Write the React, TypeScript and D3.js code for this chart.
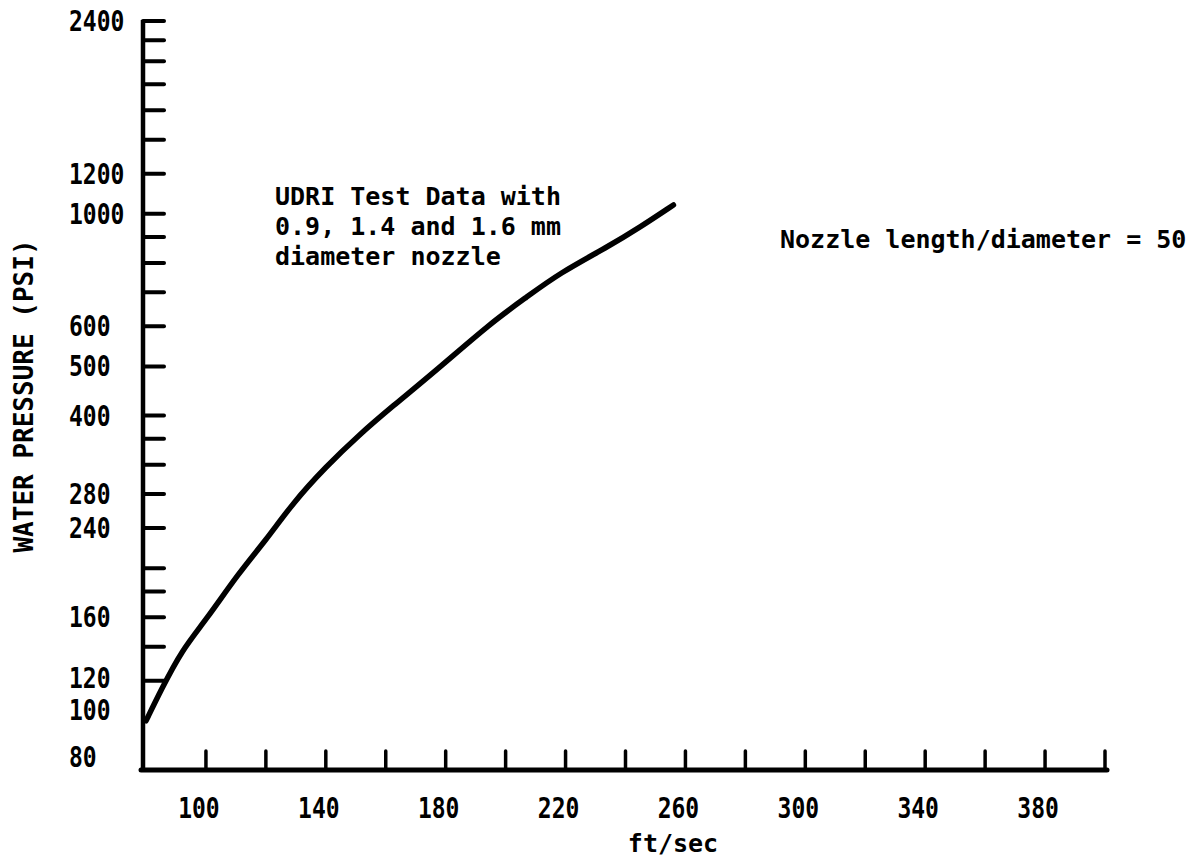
import React from "react";
import * as d3 from "d3";

// Data
const velocity = [80, 85, 92, 100, 111, 120, 129, 140, 151, 162, 177, 195, 207, 218, 234, 245, 256];
const pressure = [100, 115, 138, 158, 196, 227, 269, 317, 366, 416, 492, 609, 685, 764, 860, 942, 1041];

const xTicks = [100, 120, 140, 160, 180, 200, 220, 240, 260, 280, 300, 320, 340, 360, 380, 400];
const xTickLabels = [100, 140, 180, 220, 260, 300, 340, 380];
const yTicks = [2400, 2200, 2000, 1800, 1600, 1400, 1200, 1000, 900, 800, 700, 600, 500, 400, 360, 320, 280, 240, 200, 180, 160, 140, 120];
const yTickLabels = [2400, 1200, 1000, 600, 500, 400, 280, 240, 160, 120, 100, 80];

const annotationLines = ["UDRI Test Data with", "0.9, 1.4 and 1.6 mm", "diameter nozzle"];
const noteText = "Nozzle length/diameter = 50";
const xTitle = "ft/sec";
const yTitle = "WATER PRESSURE (PSI)";

const W = 1198;
const H = 858;
const MONO = "'DejaVu Sans Mono', 'Liberation Mono', monospace";

export default function App() {
  const x = d3.scaleLinear().domain([80, 400]).range([146, 1105]);
  const y = d3.scaleLog().domain([80, 2400]).range([770, 21]);
  const axisX = x(80) - 3;
  const axisY = y(80);

  const pts: [number, number][] = velocity.map((v, i) => [v, pressure[i]]);
  const line = d3
    .line<[number, number]>()
    .x((d) => x(d[0]))
    .y((d) => y(d[1]))
    .curve(d3.curveBasis);

  const labelDy = (v: number) => (v === 80 ? -13 : v === 100 ? -11 : v === 120 ? -3 : 0);

  return (
    <svg
      width={W}
      height={H}
      style={{ position: "absolute", left: 0, top: 0, background: "#fff" }}
    >
      <rect x={0} y={0} width={W} height={H} fill="#fff" />
      {/* y axis */}
      <line x1={axisX} x2={axisX} y1={y(2400) - 1} y2={axisY + 2} stroke="#000" strokeWidth={4.5} />
      {yTicks.map((t) => (
        <line
          key={"yt" + t}
          x1={axisX}
          x2={axisX + 21}
          y1={y(t)}
          y2={y(t)}
          stroke="#000"
          strokeWidth={4}
          strokeLinecap="round"
        />
      ))}
      {yTickLabels.map((t) => (
        <text
          key={"yl" + t}
          transform={`translate(69,${y(t) + labelDy(t)}) scale(1,1.2)`}
          dy="0.36em"
          fontFamily={MONO}
          fontWeight="bold"
          fontSize={23}
          fill="#000"
        >
          {t}
        </text>
      ))}
      {/* x axis */}
      <line x1={axisX - 2} x2={x(400) + 2} y1={axisY} y2={axisY} stroke="#000" strokeWidth={5} strokeLinecap="round" />
      {xTicks.map((t) => (
        <line
          key={"xt" + t}
          x1={x(t)}
          x2={x(t)}
          y1={axisY}
          y2={axisY - 19}
          stroke="#000"
          strokeWidth={3.5}
          strokeLinecap="round"
        />
      ))}
      {xTickLabels.map((t) => (
        <text
          key={"xl" + t}
          transform={`translate(${x(t) - 7},808) scale(1,1.25)`}
          dy="0.36em"
          textAnchor="middle"
          fontFamily={MONO}
          fontWeight="bold"
          fontSize={23}
          fill="#000"
        >
          {t}
        </text>
      ))}
      {/* curve */}
      <path d={line(pts) || ""} fill="none" stroke="#000" strokeWidth={5.5} strokeLinecap="round" strokeLinejoin="round" />
      {/* annotations */}
      {annotationLines.map((s, i) => (
        <text
          key={"an" + i}
          x={275}
          y={205 + i * 30}
          fontFamily={MONO}
          fontWeight="bold"
          fontSize={25}
          fill="#000"
          style={{ whiteSpace: "pre" }}
        >
          {s}
        </text>
      ))}
      <text x={780} y={248} fontFamily={MONO} fontWeight="bold" fontSize={25} fill="#000" style={{ whiteSpace: "pre" }}>
        {noteText}
      </text>
      <text x={673} y={852} textAnchor="middle" fontFamily={MONO} fontWeight="bold" fontSize={25} fill="#000">
        {xTitle}
      </text>
      <text
        transform="translate(33,396) rotate(-90)"
        textAnchor="middle"
        fontFamily={MONO}
        fontWeight="bold"
        fontSize={26}
        fill="#000"
        style={{ whiteSpace: "pre" }}
      >
        {yTitle}
      </text>
    </svg>
  );
}
